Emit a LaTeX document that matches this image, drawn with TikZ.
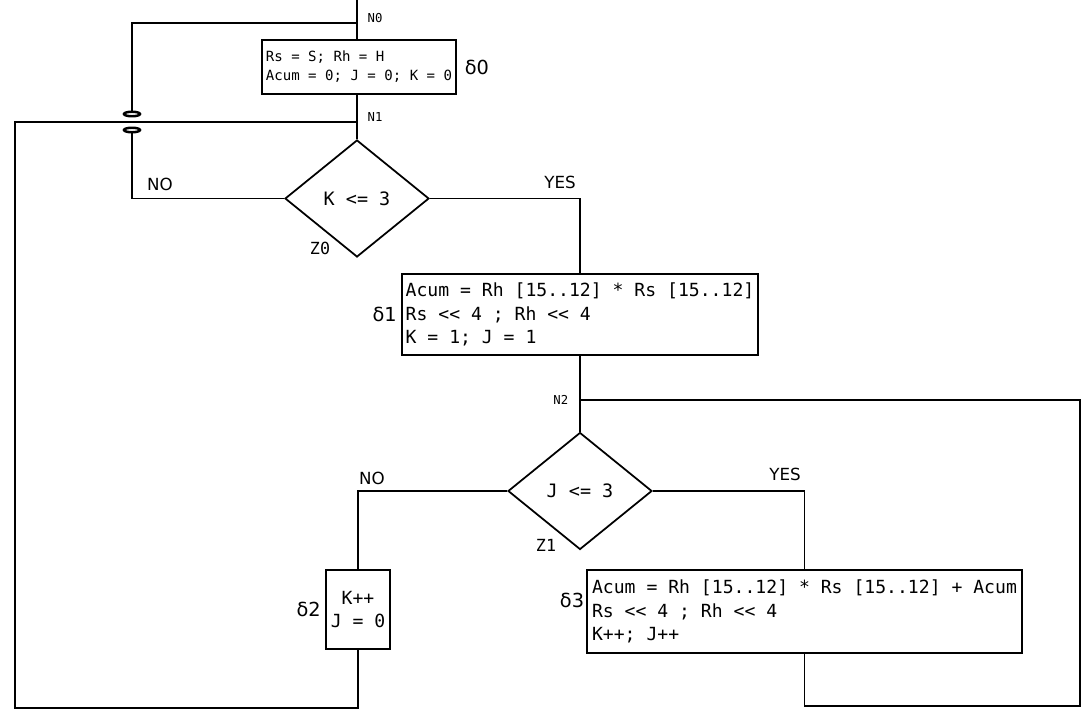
\documentclass[tikz,border=0pt]{standalone}
\usepackage{fontspec}
\setmainfont{DejaVu Sans}
\setmonofont{DejaVu Sans Mono}
\newfontfamily\codefont{DejaVu Sans Mono}
\usetikzlibrary{shapes.geometric,positioning}

\begin{document}
\begin{tikzpicture}[
    x=0.02cm, y=-0.02cm,
    line width=1pt,
    box/.style={draw, line width=1.1pt, align=left, inner sep=1pt, font=\codefont\fontsize{10.3}{13.3}\selectfont},
    cond/.style={draw, diamond, minimum width=2.88cm, minimum height=2.34cm, inner sep=0pt, font=\codefont\fontsize{10.5}{12}\selectfont},
    jump/.style={draw, ellipse, line width=1.4pt, minimum width=0.32cm, minimum height=0.09cm, inner sep=0pt},
    tag/.style={font=\fontsize{9.5}{11}\selectfont},
    pin/.style={font=\codefont\fontsize{7}{8}\selectfont},
    sym/.style={font=\fontsize{11}{12}\selectfont, inner sep=1pt}
]
    \useasboundingbox (0,0) rectangle (1091,713);

    % junctions
    \coordinate (top) at (357,0);
    \coordinate (n0) at (357,23);
    \coordinate (n1) at (357,122);
    \coordinate (n2) at (580,400);
    \coordinate (lb) at (15,708);
    \coordinate (rb) at (1080,706);

    % blocks
    \node[box, minimum width=3.88cm, minimum height=1.08cm, font=\codefont\fontsize{8}{10.8}\selectfont] (d0) at (359,67)
        {Rs = S; Rh = H\\Acum = 0; J = 0; K = 0};
    \node[cond] (z0) at (357,198.5) {K <= 3};
    \node[box, minimum width=7.12cm, minimum height=1.62cm] (d1) at (580,314.5)
        {Acum = Rh [15..12] * Rs [15..12]\\Rs << 4 ; Rh << 4\\K = 1; J = 1};
    \node[cond] (z1) at (580,491) {J <= 3};
    \node[box, minimum width=1.28cm, minimum height=1.58cm, align=center] (d2) at (358,609.5)
        {K++\\J = 0};
    \node[box, minimum width=8.7cm, minimum height=1.66cm] (d3) at (804.5,611.5)
        {Acum = Rh [15..12] * Rs [15..12] + Acum\\Rs << 4 ; Rh << 4\\K++; J++};

    % crossing
    \node[jump] (e1) at (132,114) {};
    \node[jump] (e2) at (132,130) {};

    % labels
    \node[pin, anchor=west] (ln0) at (361,18) {N0};
    \node[pin, anchor=west] (ln1) at (361,117) {N1};
    \node[pin, anchor=east] (ln2) at (575,400) {N2};
    \node[font=\codefont\fontsize{9.5}{12}\selectfont] (lz0) at (320,248) {Z0};
    \node[font=\codefont\fontsize{9.5}{12}\selectfont] (lz1) at (546,545) {Z1};
    \node[tag] (lyes0) at (560,182) {YES};
    \node[tag] (lno0) at (160,184) {NO};
    \node[tag] (lyes1) at (785,474) {YES};
    \node[tag] (lno1) at (372,478) {NO};
    \node[sym, right=3pt of d0] (ld0) {δ0};
    \node[sym, left=1pt of d1] (ld1) {δ1};
    \node[sym, left=1pt of d2] (ld2) {δ2};
    \node[sym] (ld3) at (572,600) {δ3};

    % connectors
    \draw (top) -- (n0) -- (n0 |- d0.north);
    \draw (n0) -| (e1.north);
    \draw (n0 |- d0.south) -- (n1) -- (z0.north);
    \draw (z0.west) -| (e2.south);
    \draw (z0.east) -| (d1.north);
    \draw (d1.south) -- (n2) -- (z1.north);
    \draw (z1.west) -| (d2.north);
    \draw (z1.east) -| (d3.north);
    \draw (d2.south) |- (lb) |- (n1);
    \draw (d3.south) |- (rb) |- (n2);
\end{tikzpicture}
\end{document}
